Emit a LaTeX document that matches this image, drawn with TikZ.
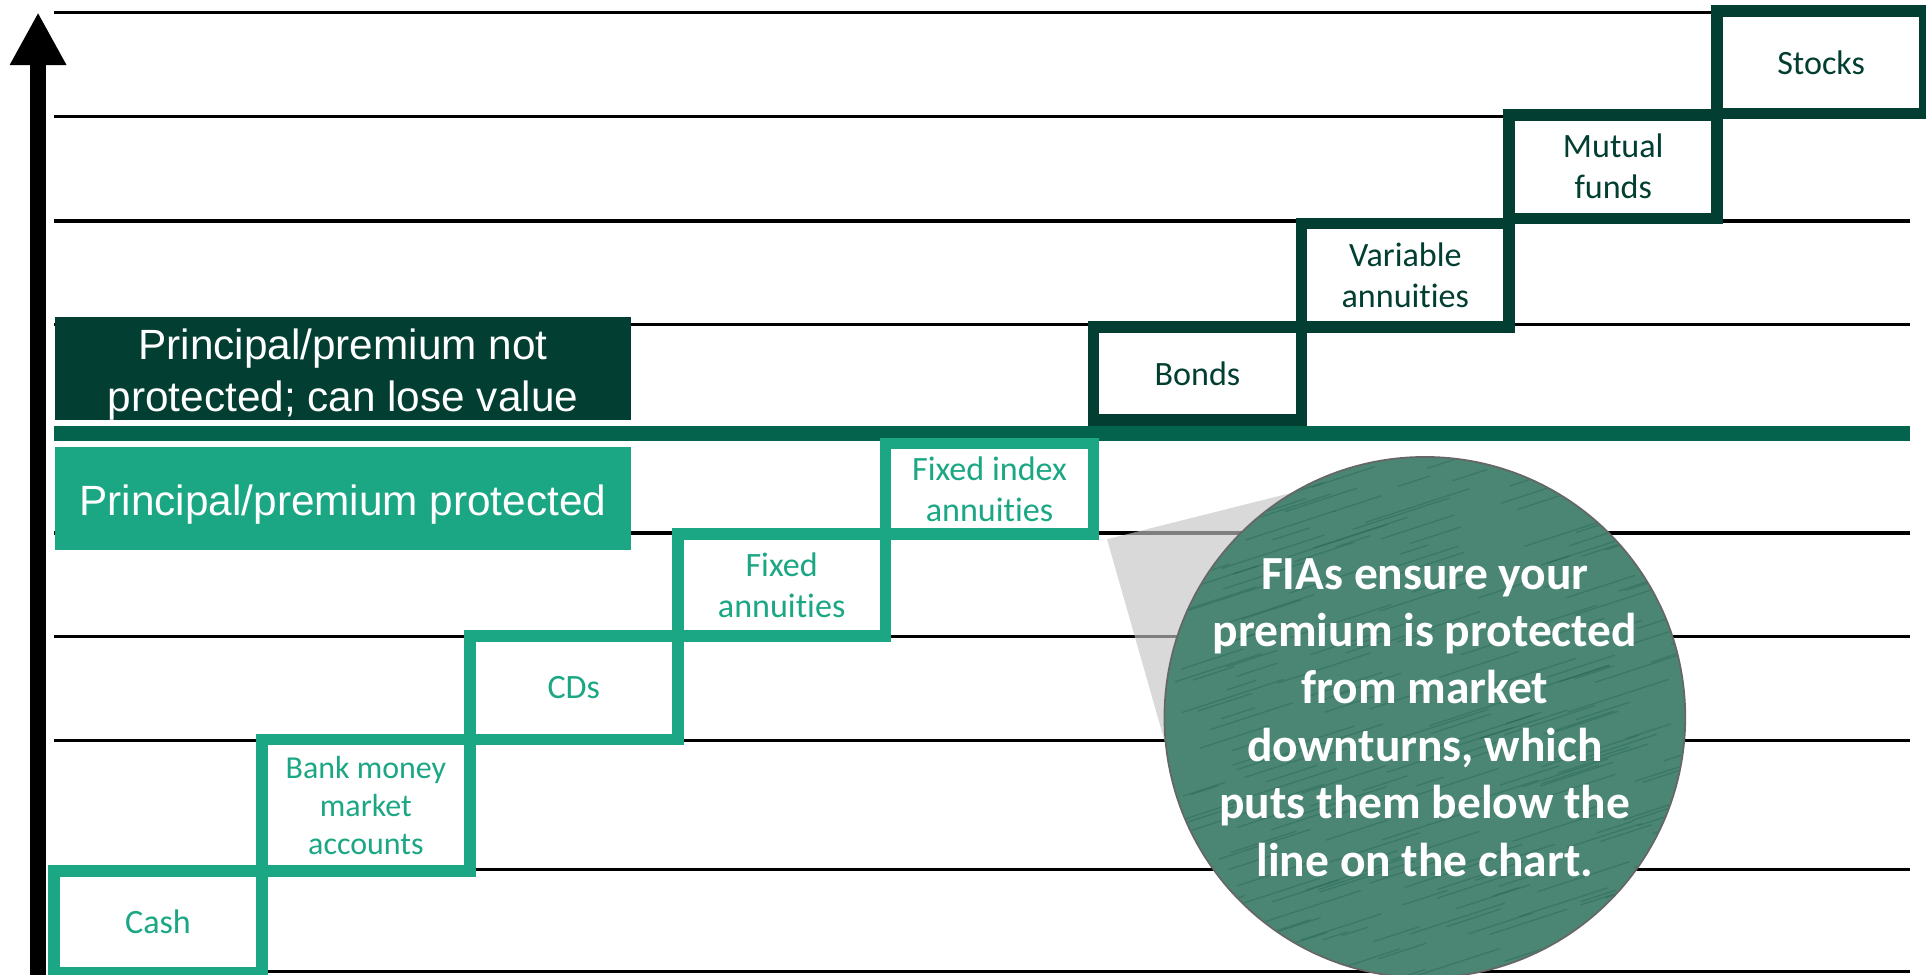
\documentclass[tikz,border=0pt]{standalone}
\usepackage{fontspec}
\setmainfont{Carlito}[Ligatures=NoCommon]
\newfontfamily\arialfont{Liberation Sans}
\usepackage{xcolor}
\definecolor{SAFEcolor}{HTML}{1BA784}
\definecolor{RISKcolor}{HTML}{023F32}
\definecolor{LINEcolor}{HTML}{03634D}
\definecolor{WOODcolor}{HTML}{4A8673}
\usetikzlibrary{arrows.meta, calc}

\begin{document}
\begin{tikzpicture}
    \tikzset{%
        stepbox/.style={draw, fill=white, line width=2.7pt, outer sep=0pt, inner sep=1pt,
                anchor=south west, minimum width=1.6925cm, align=center,
                font=\fontsize{7.9pt}{9.5pt}\selectfont},
        safe/.style={stepbox, draw=SAFEcolor, text=SAFEcolor},
        risk/.style={stepbox, draw=RISKcolor, text=RISKcolor},
        band/.style={anchor=west, minimum width=4.69cm, minimum height=0.84cm, inner sep=0pt,
                text=white, align=center, font=\arialfont\fontsize{9.8pt}{11.9pt}\selectfont},
    }
    \useasboundingbox (0, 0) rectangle (15.68, 7.93);

    % rungs
    \foreach \y in {7.83, 6.98, 6.13, 5.29, 3.59, 2.75, 1.90, 0.85, 0.02} {%
            \draw [line width=0.8pt] (0.44, \y) -- (15.55, \y);
        }
    \draw [LINEcolor, line width=3.6pt] (0.44, 4.40) -- (15.55, 4.40);

    % axis
    \draw [line width=3.9pt, -{Triangle[length=0.43cm, width=0.43cm]}] (0.31, -0.2) -- (0.31, 7.83);

    \node (risky) [band, fill=RISKcolor, text height=21.8pt] at (0.44, 4.93) {Principal/premium not\\protected; can lose value};
    \node (safe) [band, fill=SAFEcolor, text height=10pt] at (0.44, 3.87) {Principal/premium protected};

    % steps
    \node (cash) [safe, minimum height=0.83cm] at (0.44, 0.01) {Cash};
    \node (bank) [safe, minimum height=1.07cm, font=\fontsize{7.4pt}{8.8pt}\selectfont] at (2.1325, 0.84) {Bank money\\market\\accounts};
    \node (cds) [safe, minimum height=0.84cm] at (3.825, 1.91) {CDs};
    \node (fixed) [safe, minimum height=0.83cm] at (5.5175, 2.75) {Fixed\\annuities};
    \node (fia) [safe, minimum height=0.74cm] at (7.21, 3.58) {Fixed index\\annuities};
    \node (bonds) [risk, minimum height=0.76cm] at (8.9025, 4.51) {Bonds};
    \node (variable) [risk, minimum height=0.84cm] at (10.595, 5.27) {Variable\\annuities};
    \node (mutual) [risk, minimum height=0.845cm] at (12.2875, 6.15) {Mutual\\funds};
    \node (stocks) [risk, minimum height=0.835cm] at (13.98, 7.005) {Stocks};

    % callout
    \coordinate (notec) at (11.60, 2.09);
    \fill [black!23, opacity=0.65] ([shift={(0.11, -0.04)}]fia.south east) -- ($(notec)+(-0.60, 1.95)$)
        -- (notec) -- ($(notec)+(-2.00, -0.61)$) -- cycle;
    \node (note) [circle, fill=WOODcolor, draw=black!60, thin, minimum size=4.24cm] at (notec) {};
    \begin{scope}
        \clip (notec) circle (2.11);
        \pgfmathsetseed{7}
        \foreach \k in {1, ..., 260} {%
                \pgfmathsetmacro{\gx}{9.4 + 4.4*rnd}
                \pgfmathsetmacro{\gy}{-0.2 + 4.6*rnd}
                \pgfmathsetmacro{\gl}{0.2 + 0.7*rnd}
                \draw [RISKcolor, opacity=0.2, line width=0.3pt] (\gx, \gy) -- ++(18:\gl);
            }
    \end{scope}
    \node (notetext) [text=white, align=center, font=\bfseries\fontsize{11pt}{13.3pt}\selectfont] at (note.center)
        {FIAs ensure your\\premium is protected\\from market\\downturns, which\\puts them below the\\line on the chart.};
\end{tikzpicture}
\end{document}
